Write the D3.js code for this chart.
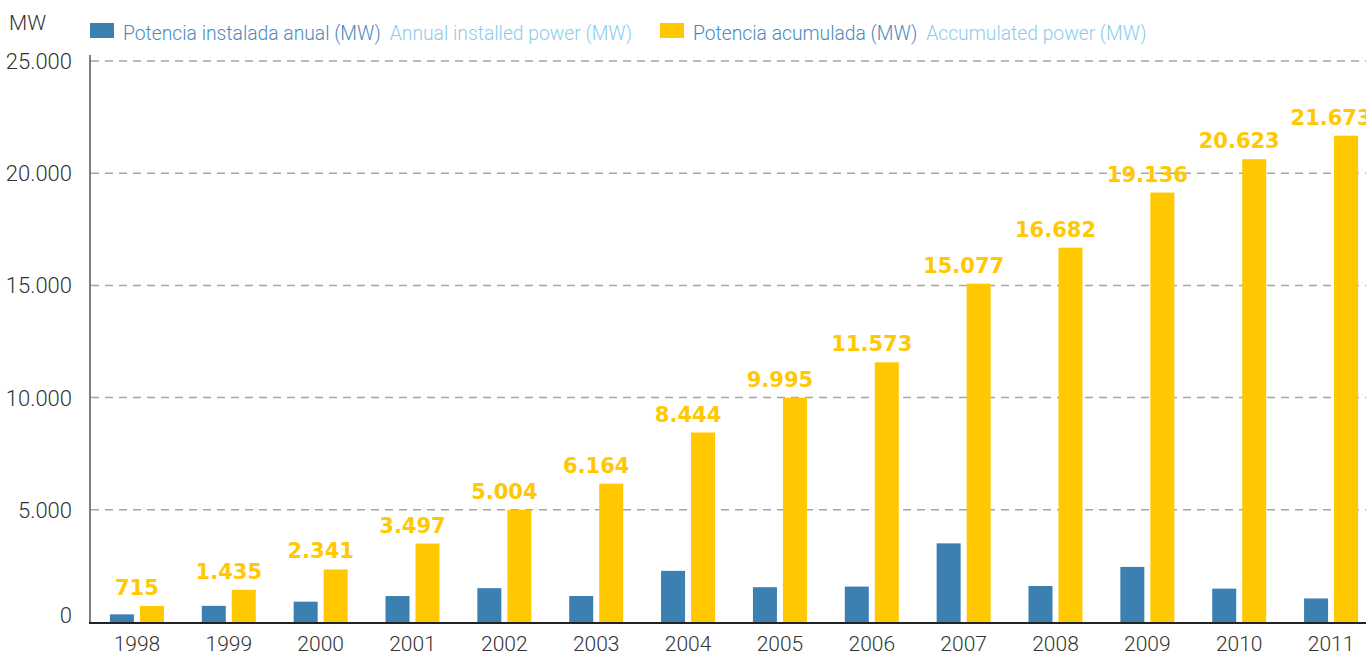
<!DOCTYPE html>
<html>
<head>
<meta charset="utf-8">
<script src="https://cdn.jsdelivr.net/npm/d3@7"></script>
<style>
  html, body { margin: 0; padding: 0; background: #fff; overflow: hidden; }
  svg { display: block; font-family: Roboto, "Open Sans", sans-serif; }
</style>
</head>
<body>
<svg id="chart" width="1366" height="653"></svg>
<script>
"use strict";

// data
const years = ["1998", "1999", "2000", "2001", "2002", "2003", "2004",
               "2005", "2006", "2007", "2008", "2009", "2010", "2011"];
const annualMW = [340, 720, 906, 1156, 1507, 1160, 2280,
                  1551, 1578, 3504, 1605, 2454, 1487, 1050];
const accumulatedMW = [715, 1435, 2341, 3497, 5004, 6164, 8444,
                       9995, 11573, 15077, 16682, 19136, 20623, 21673];
const yTicks = [0, 5000, 10000, 15000, 20000, 25000];
const legendItems = [
  { es: "Potencia instalada anual (MW)", en: "Annual installed power (MW)", color: "#3c7fb1" },
  { es: "Potencia acumulada (MW)", en: "Accumulated power (MW)", color: "#ffc800" }
];

const BLUE = "#3c7fb1", YELLOW = "#ffc800";
const fmt = d3.formatLocale({ decimal: ",", thousands: ".", grouping: [3], currency: ["", ""] }).format(",d");

const svg = d3.select("#chart");

const x = d3.scaleBand().domain(years).range([91, 1377]).padding(0);
const y = d3.scaleLinear().domain([0, 25000]).range([622, 61]);

// gridlines
svg.append("g")
  .selectAll("line")
  .data(yTicks.filter(d => d > 0))
  .join("line")
  .attr("x1", 91).attr("x2", 1366)
  .attr("y1", d => y(d)).attr("y2", d => y(d))
  .attr("stroke", "#a6a6a6")
  .attr("stroke-width", 1.5)
  .attr("stroke-dasharray", "8,6");

// y tick labels
svg.append("g")
  .selectAll("text")
  .data(yTicks)
  .join("text")
  .attr("x", 72)
  .attr("y", d => y(d) - (d === 0 ? 7 : 0))
  .attr("dy", "0.36em")
  .attr("text-anchor", "end")
  .attr("fill", "#333")
  .attr("font-size", 22)
  .attr("font-weight", 300)
  .text(d => fmt(d));

svg.append("text")
  .attr("x", 9).attr("y", 30)
  .attr("fill", "#333")
  .attr("font-size", 21)
  .attr("font-weight", 300)
  .text("MW");

// bars
const groups = svg.append("g")
  .selectAll("g")
  .data(years)
  .join("g")
  .attr("transform", d => `translate(${x(d) + x.bandwidth() / 2},0)`);

groups.append("rect")
  .attr("x", -27).attr("width", 24)
  .attr("y", (d, i) => y(annualMW[i]))
  .attr("height", (d, i) => y(0) - y(annualMW[i]))
  .attr("fill", BLUE);

groups.append("rect")
  .attr("x", 3).attr("width", 24)
  .attr("y", (d, i) => y(accumulatedMW[i]))
  .attr("height", (d, i) => y(0) - y(accumulatedMW[i]))
  .attr("fill", YELLOW);

groups.append("text")
  .attr("x", 0)
  .attr("y", (d, i) => y(accumulatedMW[i]) - 11)
  .attr("text-anchor", "middle")
  .attr("fill", YELLOW)
  .attr("font-family", "'DejaVu Sans', sans-serif")
  .attr("font-weight", "bold")
  .attr("font-size", 21)
  .text((d, i) => fmt(accumulatedMW[i]));

// x labels
groups.append("text")
  .attr("x", 0).attr("y", 651)
  .attr("text-anchor", "middle")
  .attr("fill", "#333")
  .attr("font-size", 21)
  .attr("font-weight", 300)
  .text(d => d);

// axes lines
svg.append("line")
  .attr("x1", 90).attr("x2", 90).attr("y1", 55).attr("y2", 623)
  .attr("stroke", "#555").attr("stroke-width", 1.5);
svg.append("line")
  .attr("x1", 89).attr("x2", 1366).attr("y1", 623).attr("y2", 623)
  .attr("stroke", "#222").attr("stroke-width", 2);

// legend
const legendX = [90, 660];
legendItems.forEach((item, i) => {
  const g = svg.append("g").attr("transform", `translate(${legendX[i]},0)`);
  g.append("rect").attr("x", 0).attr("y", 23).attr("width", 24).attr("height", 15).attr("fill", item.color);
  const t = g.append("text").attr("x", 33).attr("y", 40).attr("font-size", 19.3).attr("font-weight", 300);
  t.append("tspan").attr("fill", "#4a8abd").text(item.es);
  t.append("tspan").attr("fill", "#8dcbec").attr("dx", 9).text(item.en);
});
</script>
</body>
</html>
